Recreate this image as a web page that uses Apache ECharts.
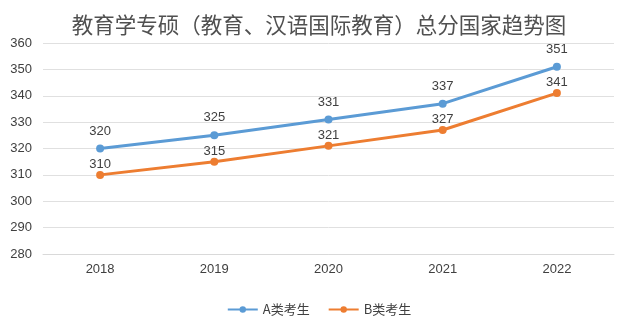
<!DOCTYPE html>
<html><head><meta charset="utf-8">
<script src="https://cdn.jsdelivr.net/npm/echarts@6/dist/echarts.min.js"></script>
<style>html,body{margin:0;padding:0;background:#fff}#c{width:638px;height:331px}</style>
</head><body><div id="c"></div>
<script>
const categories = ['2018','2019','2020','2021','2022'];
const seriesA = [320, 325, 331, 337, 351];
const seriesB = [310, 315, 321, 327, 341];
const nameA = 'A类考生';
const nameB = 'B类考生';
const chart = echarts.init(document.getElementById('c'));
const lblFont = {color:'#404040', fontSize:13, fontFamily:'"Liberation Sans", Arial, sans-serif'};
chart.setOption({
  backgroundColor:'#fff',
  animation:false,
  title:{text:'教育学专硕（教育、汉语国际教育）总分国家趋势图', left:'center', top:9,
    textStyle:{fontSize:21.5, fontWeight:'normal', color:'#505050', fontFamily:'"Noto Sans CJK SC", sans-serif'}},
  grid:{left:43, right:24, top:43, bottom:77},
  legend:{bottom:10, left:'center', itemWidth:30, itemHeight:8, itemGap:18,
    textStyle:{fontSize:13, color:'#404040', fontFamily:'"Noto Sans CJK SC", sans-serif'},
    data:[nameA, nameB]},
  xAxis:{type:'category', data:categories, boundaryGap:true,
    axisLine:{lineStyle:{color:'#d9d9d9'}}, axisTick:{show:false},
    axisLabel:{color:'#404040', fontSize:13, margin:9, fontFamily:'"Liberation Sans", Arial, sans-serif'}},
  yAxis:{type:'value', min:280, max:360, interval:10,
    axisLine:{show:false}, axisTick:{show:false},
    axisLabel:{color:'#404040', fontSize:13, margin:11, fontFamily:'"Liberation Sans", Arial, sans-serif'},
    splitLine:{lineStyle:{color:'#e0e0e0'}}},
  series:[
    {name:nameA, type:'line', data:seriesA, symbol:'circle', symbolSize:8,
     lineStyle:{width:3, color:'#5B9BD5'}, itemStyle:{color:'#5B9BD5'},
     label:Object.assign({show:true, position:'top', distance:7}, lblFont)},
    {name:nameB, type:'line', data:seriesB, symbol:'circle', symbolSize:8,
     lineStyle:{width:3, color:'#ED7D31'}, itemStyle:{color:'#ED7D31'},
     label:Object.assign({show:true, position:'top', distance:0}, lblFont)}
  ]
});
</script></body></html>
